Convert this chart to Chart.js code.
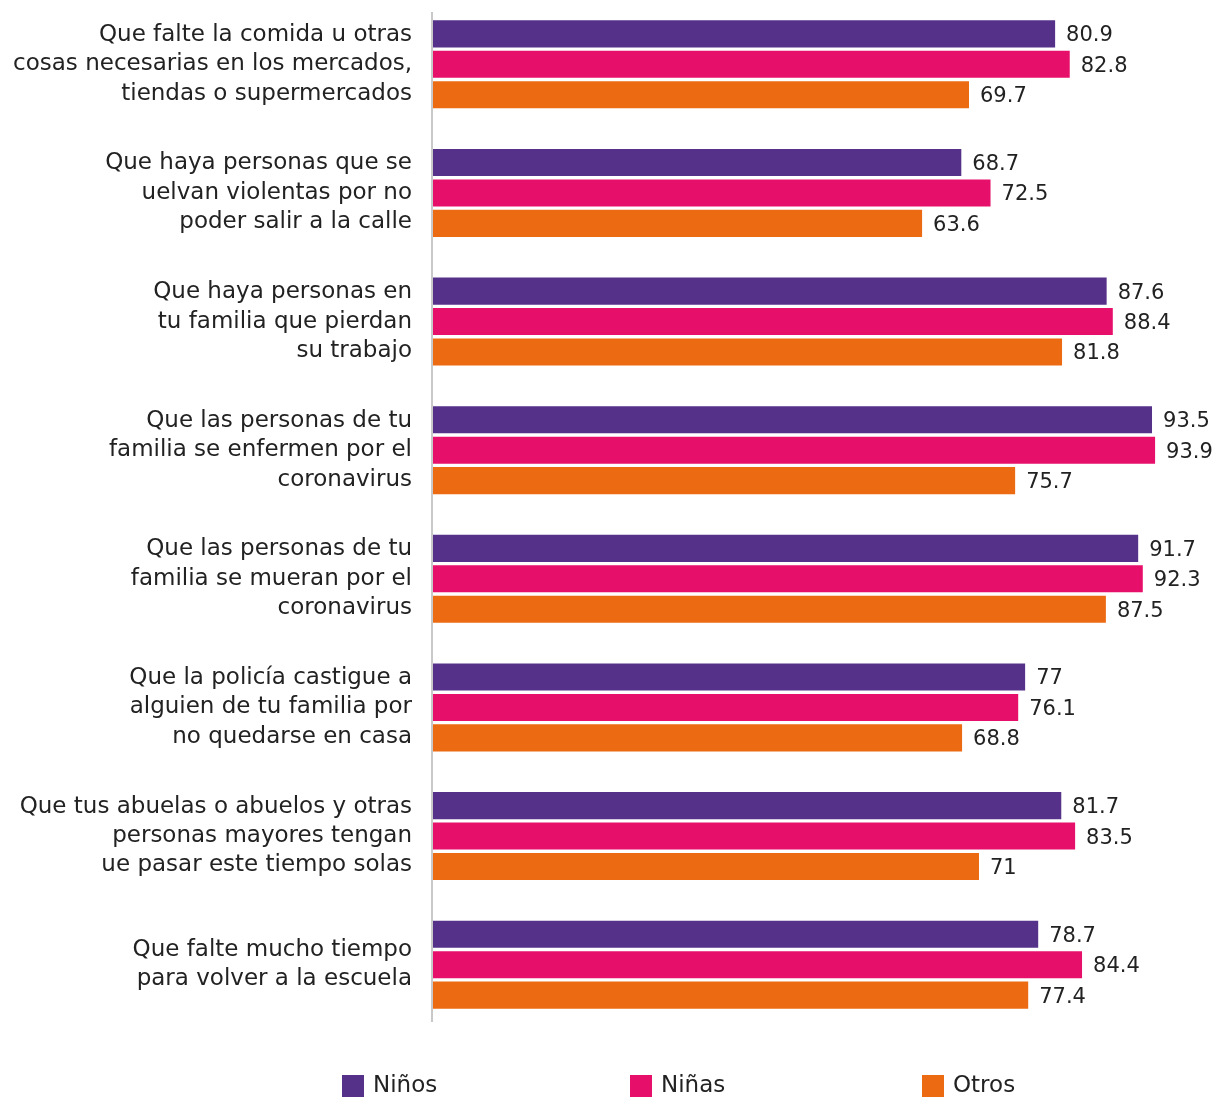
<!DOCTYPE html>
<html>
<head>
<meta charset="utf-8">
<script src="https://cdn.jsdelivr.net/npm/chart.js@4/dist/chart.umd.min.js"></script>
<style>
	html, body { margin: 0; padding: 0; background: #fff; }
	#wrap { width: 1223px; height: 1098px; position: relative; }
</style>
</head>
<body>
<div id="wrap"><canvas id="myChart"></canvas></div>
<script>
var categories = [
	["Que falte la comida u otras", "cosas necesarias en los mercados,", "tiendas o supermercados"],
	["Que haya personas que se", "uelvan violentas por no", "poder salir a la calle"],
	["Que haya personas en", "tu familia que pierdan", "su trabajo"],
	["Que las personas de tu", "familia se enfermen por el", "coronavirus"],
	["Que las personas de tu", "familia se mueran por el", "coronavirus"],
	["Que la policía castigue a", "alguien de tu familia por", "no quedarse en casa"],
	["Que tus abuelas o abuelos y otras", "personas mayores tengan", "ue pasar este tiempo solas"],
	["Que falte mucho tiempo", "para volver a la escuela"]
];
var ninos = [80.9, 68.7, 87.6, 93.5, 91.7, 77, 81.7, 78.7];
var ninas = [82.8, 72.5, 88.4, 93.9, 92.3, 76.1, 83.5, 84.4];
var otros = [69.7, 63.6, 81.8, 75.7, 87.5, 68.8, 71, 77.4];

var FONT = "'DejaVu Sans', sans-serif";
var TEXT = "#222222";

// numbers at the end of each bar
var valueLabels = {
	id: 'valueLabels',
	afterDatasetsDraw: function(chart) {
		var ctx = chart.ctx;
		ctx.save();
		ctx.font = "21px " + FONT;
		ctx.fillStyle = TEXT;
		ctx.textAlign = "left";
		ctx.textBaseline = "middle";
		chart.data.datasets.forEach(function(ds, i) {
			var meta = chart.getDatasetMeta(i);
			meta.data.forEach(function(bar, j) {
				ctx.fillText(String(ds.data[j]), bar.x + 11, bar.y + 2);
			});
		});
		ctx.restore();
	}
};

// thin grey line at zero
var zeroLine = {
	id: 'zeroLine',
	beforeDatasetsDraw: function(chart) {
		var ctx = chart.ctx;
		var x = chart.scales.x.getPixelForValue(0);
		ctx.save();
		ctx.strokeStyle = "#c8c8c8";
		ctx.lineWidth = 2;
		ctx.beginPath();
		ctx.moveTo(x - 1, chart.chartArea.top + 12);
		ctx.lineTo(x - 1, chart.chartArea.bottom - 7);
		ctx.stroke();
		ctx.restore();
	}
};

// legend row under the chart
var bottomLegend = {
	id: 'bottomLegend',
	afterDraw: function(chart) {
		var ctx = chart.ctx;
		var xs = [342, 630, 922];
		var y = 1075;
		ctx.save();
		ctx.font = "23px " + FONT;
		ctx.textBaseline = "middle";
		ctx.textAlign = "left";
		chart.data.datasets.forEach(function(ds, i) {
			ctx.fillStyle = ds.backgroundColor;
			ctx.fillRect(xs[i], y, 22, 22);
			ctx.fillStyle = TEXT;
			ctx.fillText(ds.label, xs[i] + 31, y + 11);
		});
		ctx.restore();
	}
};

var ctx = document.getElementById("myChart");
var myChart = new Chart(ctx, {
	type: 'bar',
	data: {
		labels: categories,
		datasets: [
			{ label: "Niños", data: ninos, backgroundColor: "#55318a" },
			{ label: "Niñas", data: ninas, backgroundColor: "#e60f6a" },
			{ label: "Otros", data: otros, backgroundColor: "#ec6a12" }
		]
	},
	options: {
		indexAxis: 'y',
		responsive: true,
		maintainAspectRatio: false,
		animation: false,
		categoryPercentage: 0.71,
		barPercentage: 0.89,
		layout: {
			padding: { top: 0, bottom: 69, left: 0, right: 21 }
		},
		scales: {
			x: {
				display: false,
				min: 0,
				max: 100
			},
			y: {
				border: { display: false },
				grid: { display: false },
				afterFit: function(scale) {
					scale.width = 433;
					scale.paddingTop = 0;
					scale.paddingBottom = 0;
				},
				ticks: {
					padding: 13,
					color: TEXT,
					font: { family: FONT, size: 23, lineHeight: 1.28 }
				}
			}
		},
		plugins: {
			legend: { display: false },
			tooltip: { enabled: false }
		}
	},
	plugins: [zeroLine, valueLabels, bottomLegend]
});
</script>
</body>
</html>
